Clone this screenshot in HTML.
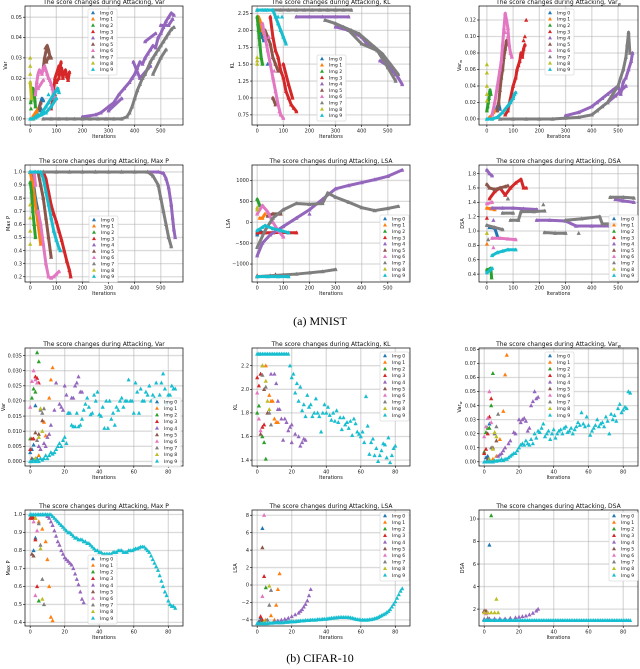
<!DOCTYPE html>
<html><head><meta charset="utf-8"><style>
html,body{margin:0;padding:0;background:#fff;}
svg{display:block;font-family:"DejaVu Sans","Liberation Sans",sans-serif;}
.cap{font-family:"Liberation Serif",serif;}
</style></head><body>
<svg id="fig" width="640" height="669" viewBox="0 0 640 669" xmlns="http://www.w3.org/2000/svg">
<text class="cap" x="320" y="325" font-size="12" text-anchor="middle">(a) MNIST</text>
<text class="cap" x="320" y="662" font-size="12" text-anchor="middle">(b) CIFAR-10</text>
</svg>
<script>
// ---------- MNIST data ----------
const mnVarYTicks=[0,0.01,0.02,0.03,0.04,0.05];
const mnVarYLabels=["0.00","0.01","0.02","0.03","0.04","0.05"];
const mnXTicks=[0,100,200,300,400,500];
const mnVarS0=[35,.006,40,.008,45,.01,50,.009,42,.005,38,.004,30,.002];
const mnVarS1=[10,.001,15,.002,20,.003,25,.004,18,.0015,30,.005,12,0];
const mnVarS2=[2,.008,5,.01,8,.012,10,.015,12,.011,15,.013,18,.009,20,.006,6,.014,3,.005];
const mnVarS3=[80,.005,85,.008,90,.015,95,.02,100,.022,105,.024,110,.026,115,.022,120,.025,125,.02,130,.023,135,.024,140,.021,145,.019,150,.023,100,.018,110,.02,118,.028,95,.012,88,.01];
const mnVarS4=[200,.001,250,.002,270,.003,300,.006,320,.008,340,.012,360,.015,380,.018,390,.02,400,.022,410,.025,420,.028,430,.027,440,.03,450,.032,460,.034,470,.036,480,.035,490,.04,500,.042,510,.045,520,.048,530,.05,540,.052,550,.051,395,.028,420,.02,460,.026,500,.046,530,.046,545,.049,440,.038,480,.042,300,.004,350,.01];
const mnVarS5=[50,.025,55,.03,60,.033,65,.036,70,.034,75,.031,80,.03,62,.028,68,.03,58,.035,35,.005,40,.008];
const mnVarS6=[20,.012,25,.018,30,.022,35,.024,40,.023,45,.022,50,.025,55,.026,60,.024,65,.022,70,.02,75,.019,80,.017,85,.015,90,.012,95,.01,30,.015,50,.019];
const mnVarS7=[50,0,80,0,110,0,140,0,170,0,200,0,230,0,260,0,290,0,320,0,350,0,370,.001,380,.003,390,.006,400,.01,410,.014,420,.017,430,.02,440,.022,450,.025,460,.028,470,.03,480,.032,490,.034,500,.036,510,.038,520,.04,530,.042,540,.044,550,.045,470,.022,500,.03,520,.034];
const mnVarS8=[0,.030,0,.026,0,.022,0,.018,5,.01];
const mnVarS9=[0,0,10,0,20,.001,30,.002,40,.002,50,.004,60,.006,70,.008,80,.01,90,.012,100,.014,105,.015,110,.013,20,.0005,60,.003,80,.006,100,.01,70,.012];

const mnKLYTicks=[0.75,1.0,1.25,1.5,1.75,2.0,2.25];
const mnKLYLabels=["0.75","1.00","1.25","1.50","1.75","2.00","2.25"];
const mnKLS0=[10,2.1,15,2.0,20,1.9,25,1.85,40,1.5];
const mnKLS1=[5,2.2,10,2.15,20,2.0,30,1.9];
const mnKLS2=[0,2.2,5,2.0,10,1.8,15,1.6,20,1.5,3,2.1,8,1.9];
const mnKLS3=[50,2.2,60,1.9,70,1.7,80,1.6,90,1.4,100,1.3,110,1.1,120,1.0,130,0.9,140,0.85,150,0.8,100,1.5,120,1.2,135,1.0];
const mnKLS4=[150,2.2,200,2.2,250,2.2,300,2.2,350,2.2,300,2.05,350,2.0,400,1.9,420,1.8,440,1.75,460,1.7,480,1.6,500,1.5,520,1.4,540,1.3,555,1.2,470,1.55,510,1.45,530,1.35,380,1.95];
const mnKLS5=[30,2.0,40,1.9,50,1.8,60,1.6,70,1.5,80,1.4,60,1.0,70,0.9];
const mnKLS6=[20,2.1,30,1.9,40,1.7,50,1.5,60,1.3,70,1.1,80,0.9,90,0.75,100,0.7,45,1.9,65,1.4,85,0.8];
const mnKLS7=[0,2.3,30,2.3,60,2.3,90,2.3,120,2.3,150,2.3,180,2.3,210,2.3,240,2.3,270,2.3,300,2.3,330,2.3,360,2.3,260,2.15,300,2.1,330,2.05,360,2.0,390,1.95,420,1.85,450,1.75,480,1.65,510,1.5,540,1.35,350,2.0,400,1.8,460,1.7,500,1.45,530,1.25];
const mnKLS8=[0,1.6,0,1.5,0,1.55];
const mnKLS9=[0,2.3,20,2.3,40,2.3,60,2.3,70,2.2,80,2.1,90,2.0,100,1.9,110,1.8,95,2.2,80,2.2];

const mnVwYTicks=[0,0.02,0.04,0.06,0.08,0.10,0.12];
const mnVwYLabels=["0.00","0.02","0.04","0.06","0.08","0.10","0.12"];
const mnVwS0=[35,.01,40,.015,45,.018,50,.012];
const mnVwS1=[10,.002,20,.005,30,.01,25,.008];
const mnVwS2=[0,.01,3,.015,5,.02,8,.025,10,.03,12,.035,15,.03];
const mnVwS3=[70,.005,80,.01,90,.025,100,.04,110,.05,115,.06,120,.065,125,.07,130,.08,135,.075,140,.085,145,.09,150,.12,145,.1,140,.095];
const mnVwS4=[300,.004,350,.008,400,.015,420,.02,440,.025,460,.03,480,.035,500,.04,510,.03,520,.045,530,.05,540,.06,550,.07,555,.08,460,.02,490,.028,530,.04];
const mnVwS5=[40,.01,45,.02,50,.035,55,.05,60,.06,65,.075,70,.085,75,.095,80,.09];
const mnVwS6=[20,.005,30,.02,40,.04,50,.06,55,.07,60,.09,65,.11,70,.128,75,.12,80,.11,85,.09,90,.08,95,.075,80,.1,70,.105];
const mnVwS7=[50,0,100,0,150,0,200,0,250,0,300,.001,350,.002,400,.005,420,.01,440,.015,460,.02,480,.03,500,.04,510,.05,520,.06,530,.075,535,.09,540,.105,545,.08];
const mnVwS8=[0,.066,0,.056,0,.04,0,.03,0,.022];
const mnVwS9=[0,0,20,0,40,.002,60,.008,70,.012,80,.016,90,.02,100,.025,105,.03,110,.032];

const mnPYTicks=[0.2,0.3,0.4,0.5,0.6,0.7,0.8,0.9,1.0];
const mnPYLabels=["0.2","0.3","0.4","0.5","0.6","0.7","0.8","0.9","1.0"];
const mnPS0=[0,1,10,.95,20,.8,30,.7,40,.55,45,.5];
const mnPS1=[0,1,10,.9,20,.75,30,.6,40,.45];
const mnPS2=[0,.92,5,.85,10,.7,15,.6,20,.5];
const mnPS3=[50,1,60,.95,70,.85,80,.75,90,.68,100,.62,110,.55,120,.48,130,.4,140,.32,150,.25,155,.2];
const mnPS4=[0,1,50,1,100,1,150,1,200,1,250,1,300,1,350,1,400,1,450,1,490,1,510,.99,520,.95,530,.88,540,.75,545,.65,550,.56,555,.5];
const mnPS5=[30,1,40,.9,50,.8,60,.65,70,.5,80,.35];
const mnPS6=[15,1,20,.9,30,.7,40,.6,50,.45,60,.3,70,.2,80,.19,90,.2,100,.22,110,.24];
const mnPS7=[0,1,50,1,100,1,150,1,200,1,250,1,300,1,350,1,400,1,450,1,470,.97,490,.9,500,.8,510,.7,520,.6,530,.5,540,.43];
const mnPS8=[0,.75,0,.65,0,.55,0,.45];
const mnPS9=[0,1,20,1,40,1,50,.95,60,.85,70,.75,80,.65,90,.55,100,.48,110,.42,115,.4];

const mnLYTicks=[-1000,-500,0,500,1000];
const mnLYLabels=["\u22121000","\u2212500","0","500","1000"];
const mnLS0=[0,-300,10,-200,20,-250];
const mnLS1=[10,100,20,100,30,200];
const mnLS2=[0,550,10,400];
const mnLS3=[0,-250,30,-250,60,-250,90,-240,120,-250,150,-250,0,-1280];
const mnLS4=[0,-800,20,-500,50,-300,100,-100,150,100,200,300,250,550,300,800,350,880,400,950,450,1020,500,1100,555,1250,200,200];
const mnLS5=[40,150,60,200,80,200,90,200,70,-1250];
const mnLS6=[0,200,20,400,40,250,60,0,80,-200,100,-350];
const mnLS7=[0,-600,30,-200,60,100,100,300,150,450,200,430,250,450,270,700,300,600,350,480,400,350,450,280,500,330,540,380,0,-1300,50,-1280,100,-1260,150,-1240,200,-1210,250,-1180,300,-1130];
const mnLS8=[0,300,0,350];
const mnLS9=[0,-1300,40,-1300,80,-1300,120,-1300,0,-200,20,-120,30,-80,60,-150,90,-200,120,-250];

const mnDYTicks=[0.4,0.6,0.8,1.0,1.2,1.4,1.6,1.8];
const mnDYLabels=["0.4","0.6","0.8","1.0","1.2","1.4","1.6","1.8"];
const mnDS0=[10,1.05,30,1.04,40,.93];
const mnDS1=[0,1.32,15,1.31,30,1.3,0,.82];
const mnDS2=[0,.46,10,.47,15,.48,18,.35];
const mnDS3=[10,1.45,30,1.55,50,1.6,70,1.5,90,1.6,110,1.67,130,1.72,140,1.6,150,1.6,0,1.18];
const mnDS4=[0,1.85,10,1.8,20,1.77,20,1.32,60,1.32,100,1.32,140,1.31,190,1.3,190,1.15,240,1.15,300,1.14,340,1.07,400,1.07,470,1.07,490,1.44,520,1.42,560,1.4,25,1.15];
const mnDS5=[0,1.65,10,1.6,30,1.58,50,1.6,70,1.62,80,1.63,80,1.45];
const mnDS6=[0,1.38,20,1.4,20,.9,50,.9,80,.89,110,.88,25,.77];
const mnDS7=[0,1.08,30,1.05,60,1.02,60,1.25,100,1.25,90,1.15,120,1.15,130,1.27,180,1.27,220,1.28,220,.98,260,.97,300,.97,300,1.15,360,1.17,430,1.2,440,1.1,490,1.1,470,1.47,520,1.47,560,1.46,80,1.45,215,1.37,350,.97,5,.88];
const mnDS8=[0,.97];
const mnDS9=[20,.66,40,.7,60,.72,80,.74,110,.74,0,.42,10,.45,20,.48];

// ---------- CIFAR-10 data ----------
const cfXTicks=[0,20,40,60,80];
const cfVarYTicks=[0,0.005,0.01,0.015,0.02,0.025,0.03,0.035];
const cfVarYLabels=["0.000","0.005","0.010","0.015","0.020","0.025","0.030","0.035"];
const cfVarS0=[0,.003,1,.004,2,.0055,3,.0185,4,.001];
const cfVarS1=[3,.001,5,.002,6,.004,8,.013,11,.021,12,.027,13,.031,9,.0085];
const cfVarS2=[0,.0075,1,.021,2,.024,3,.023,4,.036,5,.033];
const cfVarS3=[0,.004,1,.0075,2,.0075,3,.028,4,.0275,5,.026];
const cfVarS4=[5,.005,8,.006,10,.008,12,.012,14,.017,15,.026,17,.019,18,.018,19,.017,20,.025,21,.022,22,.016,24,.021,25,.021,26,.025,27,.026,28,.028,29,.023,30,.023,6,.004,9,.005,11,.009];
const cfVarS5=[1,.001,3,.0095,5,.009,7,.0135];
const cfVarS6=[0,.018,1,.0265,2,.03,3,.027,4,.026];
const cfVarS7=[2,.0005,4,.007,6,.017,7,.016,8,.0175];
const cfVarS8=[3,.001,5,.008,6,.0175,7,.01];
const cfVarCyan=[0,0,0.0005,0,0.0005,0,0.001,0.0005,0.001,0.002,0.001,0.002,0.003,0.0025,0.003,0.004,0.005,0.006,0.005,0.007,0.008,0.006,0.016,0.016,0.012,0.0115,0.0115,0.016,0.0115,0.012,0.014,0.017,0.019,0.021,0.018,0.0155,0.016,0.022,0.02,0.023,0.0155,0.015,0.018,0.011,0.02,0.011,0.02,0.014,0.016,0.012,0.018,0.017,0.02,0.021,0.018,0.02,0.02,0.027,0.02,0.02,0.016,0.026,0.023,0.016,0.024,0.02,0.02,0.023,0.022,0.025,0.02,0.022,0.021,0.026,0.019,0.022,0.026,0.029,0.024,0.019,0.022,0.022,0.025,0.024,0.024];

const cfKLYTicks=[1.4,1.6,1.8,2.0,2.2];
const cfKLYLabels=["1.4","1.6","1.8","2.0","2.2"];
const cfKLS0=[1,2.3,2,2.13];
const cfKLS1=[3,2.2,5,2.2,7,1.95,8,1.9,9,1.9,11,1.72,12,1.72,10,1.75];
const cfKLS2=[0,1.8,1,1.86,3,1.6,4,1.55,5,1.41];
const cfKLS3=[0,2.1,1,2.03,2,2.13,3,1.68,4,1.7];
const cfKLS4=[8,2.13,10,2.13,11,2.05,12,1.83,13,1.83,14,1.75,15,1.57,16,1.75,17,1.72,18,1.65,19,1.68,20,1.7,22,1.62,24,1.6,25,1.52,26,1.55,27,1.58,28,1.57,12,1.9,20,1.55];
const cfKLS5=[2,1.62,4,2.0,6,1.8];
const cfKLS6=[0,1.97,1,1.75,2,1.65];
const cfKLS7=[3,2.12,5,2.02,7,1.8,8,1.7];
const cfKLS8=[3,2.2,6,1.9,7,1.83,5,2.07];
const cfKLCyan=[2.3,2.3,2.3,2.3,2.3,2.3,2.3,2.3,2.3,2.3,2.3,2.3,2.3,2.3,2.3,2.3,2.3,2.3,2.3,2.2,2.1,2.13,1.97,2.05,1.9,2.02,1.82,1.87,1.77,1.95,1.85,1.87,1.77,1.8,1.92,1.8,1.77,1.64,1.8,1.87,1.8,1.85,1.78,1.74,1.8,1.73,1.82,1.72,1.76,1.66,1.76,1.7,1.72,1.67,1.73,1.61,1.75,1.71,1.64,1.62,1.6,1.64,1.55,1.94,1.69,1.45,1.55,1.58,1.44,1.5,1.39,1.44,1.48,1.54,1.53,1.42,1.59,1.38,1.44,1.5,1.52];

const cfVwYTicks=[0,0.01,0.02,0.03,0.04,0.05,0.06,0.07,0.08];
const cfVwYLabels=["0.00","0.01","0.02","0.03","0.04","0.05","0.06","0.07","0.08"];
const cfVwS0=[1,.003,2,.004,3,.027];
const cfVwS1=[5,.002,7,.004,9,.016,11,.036,12,.062,13,.076];
const cfVwS2=[0,.007,1,.021,2,.024,3,.024,4,.04,5,.063];
const cfVwS3=[0,.006,1,.009,2,.02,3,.032,4,.045];
const cfVwS4=[8,.004,10,.006,12,.01,14,.013,15,.015,17,.021,18,.02,20,.03,21,.028,22,.03,23,.031,24,.029,25,.022,26,.024,27,.04,28,.043,29,.05,30,.045,31,.046,9,.005,11,.008];
const cfVwS5=[2,.002,5,.01,7,.015];
const cfVwS6=[0,.018,1,.025,2,.031,3,.05,4,.028];
const cfVwS7=[4,.01,7,.025,8,.034,6,.02];
const cfVwS8=[3,.002,5,.009,6,.021,7,.018];
const cfVwCyan=[0,0,0,0.0005,0,0,0.001,0.0005,0.001,0.001,0.002,0.001,0.002,0.002,0.003,0.004,0.005,0.006,0.006,0.008,0.01,0.012,0.013,0.012,0.015,0.013,0.012,0.016,0.013,0.02,0.017,0.022,0.021,0.024,0.027,0.018,0.02,0.022,0.016,0.02,0.023,0.017,0.02,0.022,0.023,0.02,0.024,0.025,0.021,0.022,0.024,0.02,0.023,0.025,0.028,0.026,0.035,0.027,0.025,0.032,0.026,0.019,0.022,0.024,0.026,0.03,0.025,0.027,0.028,0.025,0.032,0.029,0.02,0.034,0.03,0.033,0.029,0.038,0.041,0.035,0.037,0.039,0.038,0.05,0.049];

const cfPYTicks=[0.4,0.5,0.6,0.7,0.8,0.9,1.0];
const cfPYLabels=["0.4","0.5","0.6","0.7","0.8","0.9","1.0"];
const cfPS0=[0,1,1,.99,2,.8,3,.87];
const cfPS1=[1,.99,3,.98,5,.96,7,.92,9,.85,10,.75,11,.6,12,.43,13,.41];
const cfPS2=[1,.99,5,.52];
const cfPS3=[0,.98,1,.98,2,.98,3,.86,4,.6];
const cfPS4=[5,1,7,1,9,1,10,.99,11,.98,12,.96,13,.94,14,.91,15,.88,16,.85,17,.83,18,.8,19,.78,20,.76,21,.75,22,.74,23,.73,24,.72,25,.7,26,.67,27,.64,28,.61,29,.57,30,.53,31,.51];
const cfPS5=[1,.78,2,.77];
const cfPS6=[2,.96,3,.55,4,.91];
const cfPS7=[5,.95,6,.83,7,.64,8,.5];
const cfPS8=[3,.98,6,.81,7,.53];
const cfPCyan=[1,1,1,1,1,1,1,1,1,1,1,1,1,.99,.98,.97,.96,.95,.94,.93,.92,.91,.9,.9,.89,.88,.87,.87,.86,.86,.86,.85,.85,.84,.84,.83,.82,.81,.8,.8,.79,.79,.78,.78,.78,.78,.78,.78,.79,.79,.79,.8,.8,.8,.79,.79,.79,.8,.8,.8,.805,.81,.81,.815,.82,.82,.82,.81,.8,.79,.77,.75,.73,.71,.69,.66,.63,.6,.57,.55,.52,.5,.49,.49,.48];

const cfLYTicks=[-4,-2,0,2,4,6,8];
const cfLYLabels=["\u22124","\u22122","0","2","4","6","8"];
const cfLS0=[2,-3.7,3,6.5,1,-4.2];
const cfLS1=[5,-4,8,-3.5,10,-4,11,-2.3,12,-0.5,13,1.3];
const cfLS2=[3,-4.1,5,-0.3];
const cfLS3=[2,-3.6,3,-4,4,1.0];
const cfLS4=[10,-4.2,12,-4.1,14,-4.0,16,-3.9,18,-3.8,20,-3.6,22,-3.4,24,-3.2,25,-3,26,-2.8,27,-2.5,28,-2.2,29,-1.8,30,-1.2,31,-0.5,13,-4.3,17,-4.1];
const cfLS5=[2,-4,3,4.3];
const cfLS6=[3,-1.3,4,8];
const cfLS7=[6,-4,7,-2.3,8,-0.6];
const cfLS8=[4,-4.2,7,-0.1];
const cfLCyan=[-4.4,-4.4,-4.4,-4.4,-4.4,-4.4,-4.4,-4.35,-4.35,-4.35,-4.3,-4.3,-4.3,-4.3,-4.3,-4.3,-4.25,-4.25,-4.25,-4.2,-4.2,-4.2,-4.2,-4.15,-4.15,-4.1,-4.1,-4.1,-4.05,-4.05,-4.05,-4.0,-4.0,-4.0,-4.0,-3.95,-3.95,-3.95,-3.9,-3.9,-3.9,-3.85,-3.85,-3.8,-3.8,-3.75,-3.75,-3.7,-3.7,-3.7,-3.7,-3.7,-3.7,-3.72,-3.75,-3.8,-3.85,-3.9,-3.95,-3.97,-4.0,-4.0,-4.0,-4.0,-4.0,-3.97,-3.95,-3.9,-3.85,-3.8,-3.7,-3.6,-3.5,-3.4,-3.3,-3.15,-3.0,-2.8,-2.5,-2.2,-1.9,-1.5,-1.1,-0.7,-0.4];

const cfDYTicks=[2,4,6,8,10];
const cfDYLabels=["2","4","6","8","10"];
const cfDS0=[3,7.7,0,1.1];
const cfDS1=[1,1.8];
const cfDS2=[4,10.3];
const cfDS3=[0,1.8,2,1.7];
const cfDS4=[0,1.1,3,1.15,6,1.15,9,1.15,12,1.15,15,1.2,18,1.25,20,1.3,22,1.35,24,1.4,26,1.5,28,1.65,30,1.85,31,2.0];
const cfDS5=[0,1.85,1,1.85];
const cfDS6=[1,1.6];
const cfDS7=[2,1.2];
const cfDS8=[0,1.7,2,1.7,4,1.7,6,1.7,8,1.7,7,2.9];
const cfDCyan=[1,1,1,1,1,1,1,1,1,1,1,1,1,1,1,1,1,1,1,1,1,1,1,1,1,1,1,1,1,1,1,1,1,1,1,1,1,1,1,1,1,1,1,1,1,1,1,1,1,1,1,1,1,1,1,1,1,1,1,1,1,1,1,1,1,1,1,1,1,1,1,1,1,1,1,1,1,1,1,1,1,1,1,1,1];

const COLORS=["#1f77b4","#ff7f0e","#2ca02c","#d62728","#9467bd","#8c564b","#e377c2","#7f7f7f","#bcbd22","#17becf"];
const NS="http://www.w3.org/2000/svg";
const svg=document.getElementById('fig');
function mk(tag,attrs,parent){const e=document.createElementNS(NS,tag);for(const k in attrs)e.setAttribute(k,attrs[k]);(parent||svg).appendChild(e);return e;}
function cyanPairs(arr){const o=[];arr.forEach((v,i)=>{o.push(i,v);});return o;}

function drawPanel(p){
  const g=mk('g',{});
  
  
  const L=p.box[0],T=p.box[1],R=p.box[2],B=p.box[3];
  const sx=v=>L+(v-p.xd[0])/(p.xd[1]-p.xd[0])*(R-L);
  const sy=v=>B-(v-p.yd[0])/(p.yd[1]-p.yd[0])*(B-T);
  mk('rect',{x:L,y:T,width:R-L,height:B-T,fill:'#fff'},g);
  const grid=mk('g',{stroke:'#b0b0b0','stroke-opacity':'0.45','stroke-width':'1.3'},g);
  p.xt.forEach(v=>{const x=sx(v);
    mk('line',{x1:x,x2:x,y1:T,y2:B},grid);
    mk('line',{x1:x,x2:x,y1:B,y2:B+2,stroke:'#000','stroke-width':'0.6','stroke-opacity':'1'},g);
    const t=mk('text',{x:x,y:B+7.5,'font-size':'5','text-anchor':'middle',fill:'#222'},g);t.textContent=String(v);
    
    
  });
  p.yt.forEach((v,i)=>{const y=sy(v);
    mk('line',{x1:L,x2:R,y1:y,y2:y},grid);
    mk('line',{x1:L-2,x2:L,y1:y,y2:y,stroke:'#000','stroke-width':'0.6'},g);
    const t=mk('text',{x:L-3,y:y+1.7,'font-size':'5','text-anchor':'end',fill:'#222'},g);t.textContent=p.yl[i];
    
    
  });
  const marks=mk('g',{},g);
  
  
  const s=p.ms||2;
  p.series.forEach((arr,si)=>{
    const sg=mk('g',{fill:COLORS[si]},marks);
    
    
    if(p.link){
      for(let i=2;i<arr.length;i+=2){
        const x0=sx(arr[i-2]),y0=sy(arr[i-1]),x1=sx(arr[i]),y1=sy(arr[i+1]);
        if(x1>x0 && Math.hypot(x1-x0,y1-y0)<p.link){
          const ln=mk('line',{x1:x0,y1:y0,x2:x1,y2:y1,stroke:COLORS[si],'stroke-width':'3','stroke-linecap':'round'},sg);
          
          
        }
      }
    }
    for(let i=0;i<arr.length;i+=2){
      const x=sx(arr[i]),y=sy(arr[i+1]);
      if(y<T-3||y>B+3)continue;
      const m=mk('path',{d:`M${x.toFixed(1)},${(y-s*1.1).toFixed(1)}L${(x+s).toFixed(1)},${(y+s*0.8).toFixed(1)}L${(x-s).toFixed(1)},${(y+s*0.8).toFixed(1)}Z`},sg);
      
      
    }
  });
  mk('rect',{x:L,y:T,width:R-L,height:B-T,fill:'none',stroke:'#000','stroke-width':'0.7'},g);
  const title=mk('text',{x:(L+R)/2,y:T-2,'font-size':'6','text-anchor':'middle',fill:'#111'},g);
  
  
  title.textContent='The score changes during Attacking, '+p.metric;
  if(p.sub){const ts=mk('tspan',{'font-size':'4','dy':'1.5'},title);ts.textContent='w';}
  const xl=mk('text',{x:(L+R)/2,y:B+13,'font-size':'5','text-anchor':'middle',fill:'#111'},g);
  
  
  xl.textContent='Iterations';
  const yx=L-p.ylOff, yy=(T+B)/2;
  const yl=mk('text',{x:yx,y:yy,'font-size':'5','text-anchor':'middle',fill:'#111',transform:`rotate(-90 ${yx} ${yy})`},g);
  
  
  yl.textContent=p.metric;
  if(p.sub){const ts=mk('tspan',{'font-size':'3.5','dy':'1'},yl);ts.textContent='w';}
  const lx=p.leg[0],ly=p.leg[1],rowH=p.legH||6.3;
  const lg=mk('g',{},g);
  
  
  mk('rect',{x:lx,y:ly,width:29,height:rowH*10+3,fill:'#fff','fill-opacity':'0.85',stroke:'#ccc','stroke-width':'0.5',rx:1},lg);
  for(let i=0;i<10;i++){
    const cy=ly+3.8+i*rowH;
    const e=mk('g',{},lg);
    
    
    mk('path',{d:`M${lx+5},${cy-2.2}L${lx+7},${cy+1.4}L${lx+3},${cy+1.4}Z`,fill:COLORS[i]},e);
    const t=mk('text',{x:lx+12,y:cy+1.6,'font-size':'4.6',fill:'#111'},e);t.textContent='Img '+i;
  }
}
const C1=[25,183],C2=[252,410],C3=[479,638];
const R1=[6,125],R2=[165,282],R3=[348,466],R4=[510,626];
const MX=[-20,585], CX=[-3,88.5];
drawPanel({name:'mnist-var-chart',box:[C1[0],R1[0],C1[1],R1[1]],xd:MX,yd:[-0.003,0.0555],xt:mnXTicks,yt:mnVarYTicks,yl:mnVarYLabels,metric:'Var',ylOff:18,leg:[88,9],ms:2.1,link:22,
 series:[mnVarS0,mnVarS1,mnVarS2,mnVarS3,mnVarS4,mnVarS5,mnVarS6,mnVarS7,mnVarS8,mnVarS9]});
drawPanel({name:'mnist-kl-chart',box:[C2[0],R1[0],C2[1],R1[1]],xd:MX,yd:[0.6,2.36],xt:mnXTicks,yt:mnKLYTicks,yl:mnKLYLabels,metric:'KL',ylOff:18,leg:[317,55],ms:2.1,link:22,
 series:[mnKLS0,mnKLS1,mnKLS2,mnKLS3,mnKLS4,mnKLS5,mnKLS6,mnKLS7,mnKLS8,mnKLS9]});
drawPanel({name:'mnist-varw-chart',box:[C3[0],R1[0],C3[1],R1[1]],xd:[-30,576],yd:[-0.0073,0.137],xt:mnXTicks,yt:mnVwYTicks,yl:mnVwYLabels,metric:'Var',sub:true,ylOff:18,leg:[545,9],ms:2.1,link:22,
 series:[mnVwS0,mnVwS1,mnVwS2,mnVwS3,mnVwS4,mnVwS5,mnVwS6,mnVwS7,mnVwS8,mnVwS9]});
drawPanel({name:'mnist-maxp-chart',box:[C1[0],R2[0],C1[1],R2[1]],xd:MX,yd:[0.16,1.053],xt:mnXTicks,yt:mnPYTicks,yl:mnPYLabels,metric:'Max P',ylOff:15,leg:[89,216],ms:2.1,link:22,
 series:[mnPS0,mnPS1,mnPS2,mnPS3,mnPS4,mnPS5,mnPS6,mnPS7,mnPS8,mnPS9]});
drawPanel({name:'mnist-lsa-chart',box:[C2[0],R2[0],C2[1],R2[1]],xd:MX,yd:[-1430,1370],xt:mnXTicks,yt:mnLYTicks,yl:mnLYLabels,metric:'LSA',ylOff:22,leg:[380,215],ms:2.1,link:22,
 series:[mnLS0,mnLS1,mnLS2,mnLS3,mnLS4,mnLS5,mnLS6,mnLS7,mnLS8,mnLS9]});
drawPanel({name:'mnist-dsa-chart',box:[C3[0],R2[0],C3[1],R2[1]],xd:[-30,576],yd:[0.29,1.92],xt:mnXTicks,yt:mnDYTicks,yl:mnDYLabels,metric:'DSA',ylOff:15,leg:[609,215],ms:2.1,link:22,
 series:[mnDS0,mnDS1,mnDS2,mnDS3,mnDS4,mnDS5,mnDS6,mnDS7,mnDS8,mnDS9]});
drawPanel({name:'cifar-var-chart',box:[C1[0],R3[0],C1[1],R3[1]],xd:CX,yd:[-0.0015,0.0375],xt:cfXTicks,yt:cfVarYTicks,yl:cfVarYLabels,metric:'Var',ylOff:20,leg:[152,398],legH:6.6,ms:2.1,
 series:[cfVarS0,cfVarS1,cfVarS2,cfVarS3,cfVarS4,cfVarS5,cfVarS6,cfVarS7,cfVarS8,cyanPairs(cfVarCyan)]});
drawPanel({name:'cifar-kl-chart',box:[C2[0],R3[0],C2[1],R3[1]],xd:CX,yd:[1.35,2.35],xt:cfXTicks,yt:cfKLYTicks,yl:cfKLYLabels,metric:'KL',ylOff:15,leg:[380,352],legH:6.6,ms:2.1,
 series:[cfKLS0,cfKLS1,cfKLS2,cfKLS3,cfKLS4,cfKLS5,cfKLS6,cfKLS7,cfKLS8,cyanPairs(cfKLCyan)]});
drawPanel({name:'cifar-varw-chart',box:[C3[0],R3[0],C3[1],R3[1]],xd:CX,yd:[-0.003,0.081],xt:cfXTicks,yt:cfVwYTicks,yl:cfVwYLabels,metric:'Var',sub:true,ylOff:18,leg:[545,352],legH:6.6,ms:2.1,
 series:[cfVwS0,cfVwS1,cfVwS2,cfVwS3,cfVwS4,cfVwS5,cfVwS6,cfVwS7,cfVwS8,cyanPairs(cfVwCyan)]});
drawPanel({name:'cifar-maxp-chart',box:[C1[0],R4[0],C1[1],R4[1]],xd:CX,yd:[0.38,1.025],xt:cfXTicks,yt:cfPYTicks,yl:cfPYLabels,metric:'Max P',ylOff:15,leg:[88,555],legH:6.6,ms:2.1,
 series:[cfPS0,cfPS1,cfPS2,cfPS3,cfPS4,cfPS5,cfPS6,cfPS7,cfPS8,cyanPairs(cfPCyan)]});
drawPanel({name:'cifar-lsa-chart',box:[C2[0],R4[0],C2[1],R4[1]],xd:CX,yd:[-4.7,8.6],xt:cfXTicks,yt:cfLYTicks,yl:cfLYLabels,metric:'LSA',ylOff:15,leg:[380,512],legH:6.6,ms:2.1,
 series:[cfLS0,cfLS1,cfLS2,cfLS3,cfLS4,cfLS5,cfLS6,cfLS7,cfLS8,cyanPairs(cfLCyan)]});
drawPanel({name:'cifar-dsa-chart',box:[C3[0],R4[0],C3[1],R4[1]],xd:CX,yd:[0.5,10.8],xt:cfXTicks,yt:cfDYTicks,yl:cfDYLabels,metric:'DSA',ylOff:15,leg:[609,512],legH:6.6,ms:2.1,
 series:[cfDS0,cfDS1,cfDS2,cfDS3,cfDS4,cfDS5,cfDS6,cfDS7,cfDS8,cyanPairs(cfDCyan)]});
</script>
</body></html>
